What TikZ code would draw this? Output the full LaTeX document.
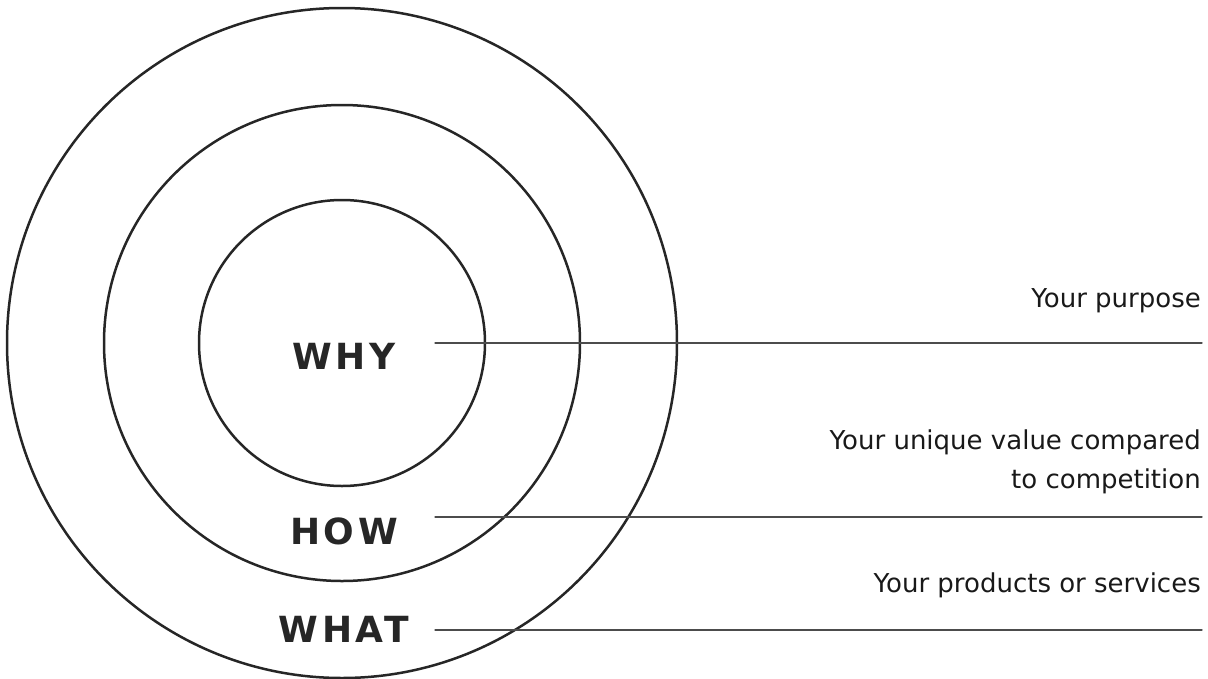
\documentclass[tikz,border=0pt]{standalone}
\usepackage{fontspec}
\setmainfont{DejaVu Sans}
\newfontfamily\levelfont{DejaVu Sans}[LetterSpace=10]
\usetikzlibrary{positioning}

\begin{document}
\begin{tikzpicture}[x=1pt,y=-1pt,line cap=round]
\tikzstyle{ring}=[draw=black!85,line width=2.5pt]
\tikzstyle{level}=[font=\levelfont\bfseries\fontsize{36}{36}\selectfont,text=black!85,anchor=base,inner sep=0pt]
\tikzstyle{note}=[font=\fontsize{26}{36}\selectfont,text=black!90,anchor=base east,inner sep=0pt]
\tikzstyle{rule}=[draw=black!70,line width=1.3pt]

\useasboundingbox (0,0) rectangle (1208,678);

% the three rings
\coordinate (centre) at (342,343);
\draw[ring] (centre) circle[radius=335pt];
\draw[ring] (centre) circle[radius=238pt];
\draw[ring] (centre) circle[radius=143pt];

% level names
\node[level] (why) at (344,369) {WHY};
\node[level] (how) at (344,544) {HOW};
\node[level] (what) at (344,642) {WHAT};

% leader lines
\coordinate (whyL) at (435,343);
\coordinate (whyR) at (1202,343);
\coordinate (howL) at (435,517);
\coordinate (howR) at (1202,517);
\coordinate (whatL) at (435,630);
\coordinate (whatR) at (1202,630);
\draw[rule] (whyL) -- (whyR);
\draw[rule] (howL) -- (howR);
\draw[rule] (whatL) -- (whatR);

% descriptions
\node[note] (purpose) at (1201,307) {Your purpose};
\node[note] (value) at (1201,449) {Your unique value compared};
\node[note] (competition) at (1201,488) {to competition};
\node[note] (products) at (1201,592) {Your products or services};
\end{tikzpicture}
\end{document}
